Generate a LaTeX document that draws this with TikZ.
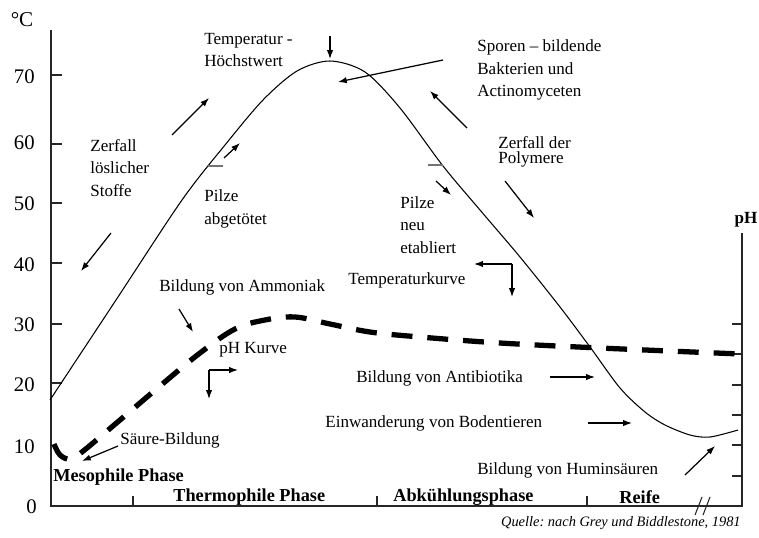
\documentclass[tikz,border=0pt]{standalone}
\usepackage{fontspec}
\setmainfont{Liberation Serif}
\usetikzlibrary{arrows.meta}
\frenchspacing

\tikzset{
  lbl/.style={font=\fontsize{9.7}{12.7}\selectfont, align=left, inner sep=0pt, anchor=west},
  phase/.style={font=\bfseries\fontsize{10.4}{12}\selectfont, inner sep=0pt, anchor=west},
  tlbl/.style={font=\fontsize{11.8}{14}\selectfont, inner sep=0pt, anchor=east},
  pfeil/.style={-{Latex[length=5pt,width=3.6pt]}, line width=0.7pt},
  achse/.style={line width=0.6pt, black!85},
}

\begin{document}
\begin{tikzpicture}[x=0.02cm, y=-0.02cm]
    \useasboundingbox (0,0) rectangle (759,537);

    % Axes
    \draw[achse] (51,30) -- (51,506) -- (742,506) -- (742,233);
    \node[font=\fontsize{12}{14}\selectfont, inner sep=0pt] (grad) at (22,20) {°C};
    \node[font=\bfseries\fontsize{9.7}{12}\selectfont, inner sep=0pt] (ph) at (746,220) {pH};

    % Temperature scale
    \draw[achse] (51,75) -- (62,75);   \node[tlbl] (t70) at (35,77) {70};
    \draw[achse] (51,144) -- (62,144); \node[tlbl] (t60) at (35,143) {60};
    \draw[achse] (51,203) -- (62,203); \node[tlbl] (t50) at (35,204) {50};
    \draw[achse] (51,263) -- (62,263); \node[tlbl] (t40) at (35,265) {40};
    \draw[achse] (51,324) -- (62,324); \node[tlbl] (t30) at (35,325) {30};
    \draw[achse] (51,383) -- (62,383); \node[tlbl] (t20) at (35,385) {20};
    \node[tlbl] (t10) at (35,447) {10};
    \node[tlbl] (t0) at (37,507) {0};

    % pH scale
    \draw[achse] (742,324) -- (732,324);
    \draw[achse] (742,354) -- (732,354);
    \draw[achse] (742,385) -- (732,385);
    \draw[achse] (742,415) -- (732,415);
    \draw[achse] (742,445) -- (732,445);
    \draw[achse] (742,476) -- (732,476);

    % Phase borders
    \draw[achse] (133,506) -- (133,496);
    \draw[achse] (377,506) -- (377,496);
    \draw[achse] (587,506) -- (587,496);

    % Axis break
    \draw[achse] (695,515) -- (702,497);
    \draw[achse] (703,515) -- (710,497);

    % Temperature curve
    \draw[line width=0.6pt] plot[smooth, tension=0.5] coordinates {
        (50,400) (116,300) (182,200) (225,145) (263,100) (297,71)
        (330,61) (365,72) (400,108) (443,166) (480,210) (520,257) (560,307)
        (590,347) (620,388) (645,412) (665,425) (690,435) (710,437) (738,430)};
    \draw[black!55, line width=0.8pt] (208,166) -- (223,166);
    \draw[black!55, line width=0.8pt] (428,165) -- (443,165);

    % pH curve
    \draw[line width=3pt, dash pattern=on 11.9pt off 8.5pt] plot[smooth, tension=0.6] coordinates {
        (54,444) (60,455) (70,459) (82,452) (120,420) (160,386) (200,353)
        (235,329) (265,320) (295,317) (330,324) (370,332) (420,337)
        (500,343) (600,348) (740,354)};

    % Labels
    \node[lbl] (hoechst) at (204,50) {Temperatur -\\Höchstwert};
    \node[lbl] (sporen) at (477,70) {Sporen – bildende\\Bakterien und\\Actinomyceten};
    \node[lbl] (loeslich) at (90,168) {Zerfall\\löslicher\\Stoffe};
    \node[lbl] (abgetoetet) at (204,209) {Pilze\\abgetötet};
    \node[lbl, font=\fontsize{9.7}{8.5}\selectfont] (polymere) at (498,152) {Zerfall der\\Polymere};
    \node[lbl] (etabliert) at (400,225) {Pilze\\neu\\etabliert};
    \node[lbl] (tkurve) at (348,280) {Temperaturkurve};
    \node[lbl] (ammoniak) at (159,287) {Bildung von Ammoniak};
    \node[lbl] (phkurve) at (219,350) {pH Kurve};
    \node[lbl] (antibiotika) at (356,378) {Bildung von Antibiotika};
    \node[lbl] (boden) at (325,423) {Einwanderung von Bodentieren};
    \node[lbl] (saeure) at (120,440) {Säure-Bildung};
    \node[lbl] (humin) at (477,470) {Bildung von Huminsäuren};

    % Phases
    \node[phase] (meso) at (53,477) {Mesophile Phase};
    \node[phase] (thermo) at (173,497) {Thermophile Phase};
    \node[phase] (abkuehl) at (393,497) {Abkühlungsphase};
    \node[phase] (reife) at (619,497) {Reife};

    % Source
    \node[font=\itshape\fontsize{8.2}{10}\selectfont, inner sep=0pt, anchor=east] (quelle) at (741,523) {Quelle: nach Grey und Biddlestone, 1981};

    % Arrows
    \draw[pfeil] (330,36) -- (330,59);
    \draw[pfeil] (443,60) -- (338,82);
    \draw[pfeil] (467,128) -- (430,91);
    \draw[pfeil] (172,135) -- (209,98);
    \draw[pfeil] (224,158) -- (240,143);
    \draw[pfeil] (111,233) -- (81,271);
    \draw[pfeil] (505,181) -- (534,218);
    \draw[pfeil] (436,181) -- (451,195);
    \draw[pfeil] (512,264) -- (474,264);
    \draw[pfeil] (512,264) -- (512,297);
    \draw[pfeil] (179,309) -- (193,332);
    \draw[pfeil] (209,370) -- (238,370);
    \draw[pfeil] (209,370) -- (209,399);
    \draw[pfeil] (550,377) -- (595,377);
    \draw[pfeil] (588,423) -- (632,423);
    \draw[pfeil] (685,475) -- (715,446);
    \draw[pfeil] (118,446) -- (82,461);
\end{tikzpicture}
\end{document}
